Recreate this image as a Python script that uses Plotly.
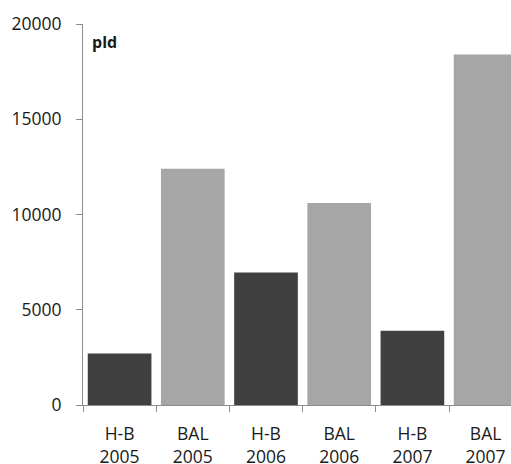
import plotly.graph_objects as go

categories = ["H-B<br>2005", "BAL<br>2005", "H-B<br>2006", "BAL<br>2006", "H-B<br>2007", "BAL<br>2007"]
values = [2700, 12400, 6950, 10600, 3900, 18400]
colors = ["#404040", "#a6a6a6", "#404040", "#a6a6a6", "#404040", "#a6a6a6"]
y_ticks = [0, 5000, 10000, 15000, 20000]

fig = go.Figure(go.Bar(x=categories, y=values, marker=dict(color=colors, line=dict(width=0)),
                       width=0.87, hoverinfo="skip"))

font = dict(family="Open Sans, Liberation Sans, sans-serif", size=17.5, color="#1a1a1a")
axis_col = "#8c8c8c"

fig.update_layout(
    width=511, height=464,
    margin=dict(l=83, r=0, t=24, b=59, autoexpand=False),
    paper_bgcolor="white", plot_bgcolor="white",
    showlegend=False,
    font=font,
    xaxis=dict(type="category", range=[-0.5, 5.347], tickson="boundaries",
               ticks="outside", ticklen=6, tickcolor=axis_col, tickwidth=1,
               showline=True, linecolor=axis_col, linewidth=1, showgrid=False,
               ticklabelstandoff=13, tickfont=font, automargin=False),
    yaxis=dict(range=[0, 20000], tickvals=y_ticks, ticktext=[str(v) for v in y_ticks],
               ticks="outside", ticklen=6,
               tickcolor=axis_col, showline=True, linecolor=axis_col, linewidth=1,
               showgrid=False, zeroline=False, tickfont=font, ticklabelstandoff=11,
               automargin=False),
    annotations=[dict(text="<b>pld</b>", x=7/428, y=0.953, xref="paper", yref="paper",
                      xanchor="left", yanchor="middle", showarrow=False,
                      font=dict(family="Open Sans, Liberation Sans, sans-serif", size=16, color="#1a1a1a"))],
)

fig.write_html("out.html", config={"displayModeBar": False},
               post_script="document.body.style.margin='0';document.body.style.overflow='hidden';")
